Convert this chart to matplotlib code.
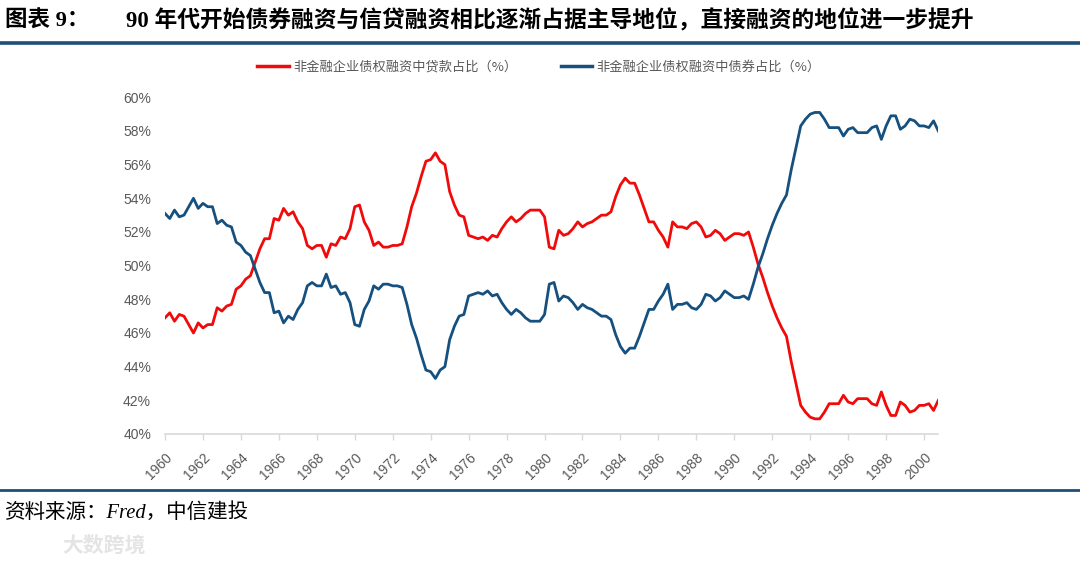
import matplotlib
matplotlib.use("Agg")
import matplotlib.pyplot as plt
from matplotlib.lines import Line2D
import numpy as np

# ---------------- data (quarterly, 1960Q1 - 2000Q4) ----------------
start_year = 1960
loan_share = [
    46.9, 47.2, 46.7, 47.1, 47.0, 46.5, 46.0, 46.6, 46.3, 46.5,
    46.5, 47.5, 47.3, 47.6, 47.7, 48.6, 48.8, 49.2, 49.4, 50.2,
    51.0, 51.6, 51.6, 52.8, 52.7, 53.4, 53.0, 53.2, 52.6, 52.2,
    51.2, 51.0, 51.2, 51.2, 50.5, 51.3, 51.2, 51.7, 51.6, 52.2,
    53.5, 53.6, 52.6, 52.1, 51.2, 51.4, 51.1, 51.1, 51.2, 51.2,
    51.3, 52.3, 53.5, 54.3, 55.3, 56.2, 56.3, 56.7, 56.2, 56.0,
    54.4, 53.6, 53.0, 52.9, 51.8, 51.7, 51.6, 51.7, 51.5, 51.8,
    51.7, 52.2, 52.6, 52.9, 52.6, 52.8, 53.1, 53.3, 53.3, 53.3,
    52.9, 51.1, 51.0, 52.1, 51.8, 51.9, 52.2, 52.6, 52.3, 52.5,
    52.6, 52.8, 53.0, 53.0, 53.2, 54.1, 54.8, 55.2, 54.9, 54.9,
    54.2, 53.4, 52.6, 52.6, 52.1, 51.7, 51.1, 52.6, 52.3, 52.3,
    52.2, 52.5, 52.6, 52.3, 51.7, 51.8, 52.1, 51.9, 51.5, 51.7,
    51.9, 51.9, 51.8, 52.0, 51.1, 50.1, 49.3, 48.4, 47.6, 46.9,
    46.3, 45.8, 44.3, 43.0, 41.7, 41.3, 41.0, 40.9, 40.9, 41.3,
    41.8, 41.8, 41.8, 42.3, 41.9, 41.8, 42.1, 42.1, 42.1, 41.8,
    41.7, 42.5, 41.7, 41.1, 41.1, 41.9, 41.7, 41.3, 41.4, 41.7,
    41.7, 41.8, 41.4, 42.0,
]
bond_share = [
    53.1, 52.8, 53.3, 52.9, 53.0, 53.5, 54.0, 53.4, 53.7, 53.5,
    53.5, 52.5, 52.7, 52.4, 52.3, 51.4, 51.2, 50.8, 50.6, 49.8,
    49.0, 48.4, 48.4, 47.2, 47.3, 46.6, 47.0, 46.8, 47.4, 47.8,
    48.8, 49.0, 48.8, 48.8, 49.5, 48.7, 48.8, 48.3, 48.4, 47.8,
    46.5, 46.4, 47.4, 47.9, 48.8, 48.6, 48.9, 48.9, 48.8, 48.8,
    48.7, 47.7, 46.5, 45.7, 44.7, 43.8, 43.7, 43.3, 43.8, 44.0,
    45.6, 46.4, 47.0, 47.1, 48.2, 48.3, 48.4, 48.3, 48.5, 48.2,
    48.3, 47.8, 47.4, 47.1, 47.4, 47.2, 46.9, 46.7, 46.7, 46.7,
    47.1, 48.9, 49.0, 47.9, 48.2, 48.1, 47.8, 47.4, 47.7, 47.5,
    47.4, 47.2, 47.0, 47.0, 46.8, 45.9, 45.2, 44.8, 45.1, 45.1,
    45.8, 46.6, 47.4, 47.4, 47.9, 48.3, 48.9, 47.4, 47.7, 47.7,
    47.8, 47.5, 47.4, 47.7, 48.3, 48.2, 47.9, 48.1, 48.5, 48.3,
    48.1, 48.1, 48.2, 48.0, 48.9, 49.9, 50.7, 51.6, 52.4, 53.1,
    53.7, 54.2, 55.7, 57.0, 58.3, 58.7, 59.0, 59.1, 59.1, 58.7,
    58.2, 58.2, 58.2, 57.7, 58.1, 58.2, 57.9, 57.9, 57.9, 58.2,
    58.3, 57.5, 58.3, 58.9, 58.9, 58.1, 58.3, 58.7, 58.6, 58.3,
    58.3, 58.2, 58.6, 58.0,
]
loan_label = "非金融企业债权融资中贷款占比（%）"
bond_label = "非金融企业债权融资中债券占比（%）"
title_prefix = "图表 9："
title_text = "90 年代开始债券融资与信贷融资相比逐渐占据主导地位，直接融资的地位进一步提升"
source_text = "资料来源：Fred，中信建投"
year_ticks = list(range(1960, 2001, 2))
pct_ticks = list(range(40, 61, 2))

# ---------------- figure ----------------
W, H = 1080, 567
fig = plt.figure(figsize=(W / 100, H / 100), dpi=100)
fig.patch.set_facecolor("white")

x = np.array([start_year + i / 4 for i in range(len(loan_share))])

ax = fig.add_axes([165 / W, (H - 434) / H, 773.3 / W, (434 - 97.3) / H])
red = "#F00A0A"
blue = "#15507F"
ax.plot(x, loan_share, color=red, lw=2.0, label=loan_label, solid_joinstyle="round")
ax.plot(x, bond_share, color=blue, lw=2.0, label=bond_label, solid_joinstyle="round")

ax.set_xlim(1960, 2000.75)
ax.set_ylim(40, 60)
ax.set_yticks(pct_ticks)
ax.set_yticklabels([f"{v}%" for v in pct_ticks])
ax.set_xticks(year_ticks)
ax.set_xticklabels([str(y) for y in year_ticks])

for s in ["left", "top", "right"]:
    ax.spines[s].set_visible(False)
ax.spines["bottom"].set_color("#D9D9D9")
ax.spines["bottom"].set_linewidth(1.2)

tick_family = ["Liberation Sans", "DejaVu Sans"]
ax.tick_params(axis="y", length=0, pad=10, labelcolor="#595959")
ax.tick_params(axis="x", length=4, direction="out", color="#D9D9D9", width=1,
               pad=8, labelcolor="#595959")
for lab in ax.get_yticklabels():
    lab.set_fontfamily(tick_family)
    lab.set_fontsize(10)
for lab in ax.get_xticklabels():
    lab.set_fontfamily(tick_family)
    lab.set_fontsize(10)
    lab.set_rotation(45)
    lab.set_ha("right")
    lab.set_va("top")
    lab.set_rotation_mode("anchor")

# legend
leg = fig.legend(loc="center", bbox_to_anchor=(539 / W, (H - 67) / H), ncol=2,
                 frameon=False, handlelength=2.4, handletextpad=0.3,
                 columnspacing=3.3,
                 prop=dict(family=["Noto Sans CJK SC", "DejaVu Sans"], size=9.5))
for t in leg.get_texts():
    t.set_color("#595959")
for h in leg.get_lines():
    h.set_linewidth(2.5)

# title
title_font = ["Liberation Serif", "Noto Sans CJK SC"]
fig.text(5 / W, 1 - 21 / H, title_prefix, family=title_font, weight="bold",
         size=16.2, va="center", ha="left", color="black")
fig.text(126 / W, 1 - 21 / H, title_text, family=title_font, weight="bold",
         size=16.4, va="center", ha="left", color="black")

# separator lines
fig.add_artist(Line2D([0, 1], [1 - 42.5 / H, 1 - 42.5 / H], transform=fig.transFigure,
                      color="#1F4E79", lw=2.6))
fig.add_artist(Line2D([0, 1], [1 - 490 / H, 1 - 490 / H], transform=fig.transFigure,
                      color="#1F4E79", lw=2.0))

# source
fig.text(5 / W, 1 - 513 / H, source_text, family=title_font, style="italic",
         size=14.8, va="center", ha="left", color="black")

# watermark
fig.text(62 / W, 1 - 545 / H, "大数跨境", family=["Noto Sans CJK SC"], weight="bold",
         size=15, va="center", ha="left", color="#E4E4E4")

fig.savefig("out.png", dpi=100, facecolor="white")
